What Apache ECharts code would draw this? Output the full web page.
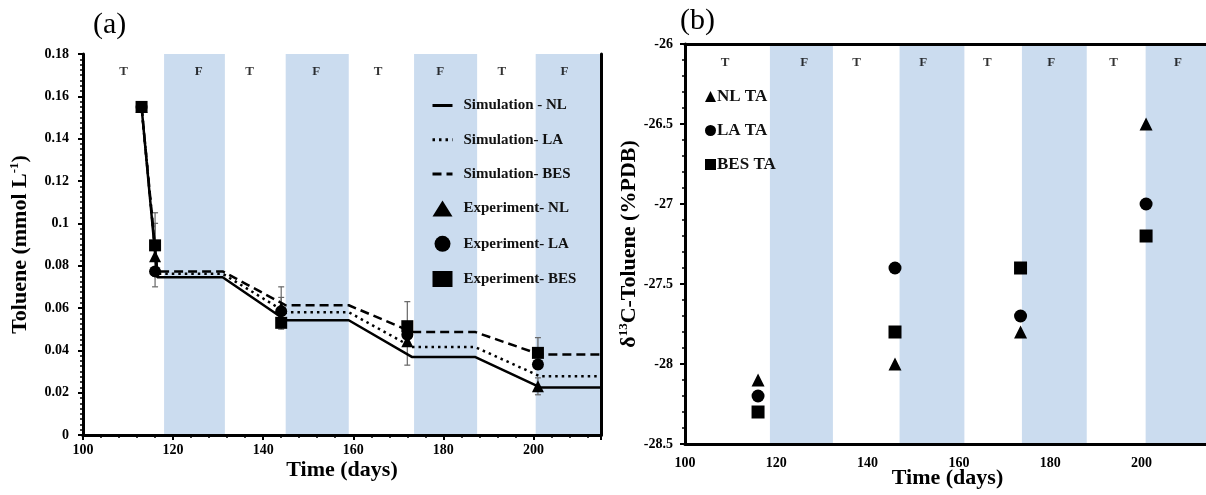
<!DOCTYPE html>
<html>
<head>
<meta charset="utf-8">
<script src="https://cdn.jsdelivr.net/npm/echarts@6/dist/echarts.min.js"></script>
<style>html,body{margin:0;padding:0;background:#fff}#c{width:1206px;height:495px}</style>
</head>
<body>
<div id="c"></div>
<script>
// ---------- data: panel (a) ----------
const simDays = [113, 116.5, 131, 145, 159, 173, 187, 201.5, 215];
const simNL  = [0.155, 0.0745, 0.0745, 0.0542, 0.0542, 0.0369, 0.0369, 0.0225, 0.0225];
const simLA  = [0.155, 0.0762, 0.0762, 0.0580, 0.0580, 0.0416, 0.0416, 0.0277, 0.0277];
const simBES = [0.155, 0.0773, 0.0773, 0.0613, 0.0613, 0.0487, 0.0487, 0.0380, 0.0380];

const expDays = [113, 116, 144, 172, 201];
const expNL  = [0.155, 0.0844, 0.0600, 0.0443, 0.0230];
const expLA  = [0.155, 0.0773, 0.0585, 0.0474, 0.0333];
const expBES = [0.155, 0.0896, 0.0530, 0.0514, 0.0388];

// error bars: [day, low, high]
const errBarsA = [
  [113, 0.153, 0.157],
  [116, 0.070, 0.100],
  [116, 0.075, 0.105],
  [144, 0.050, 0.070],
  [144, 0.055, 0.065],
  [172, 0.033, 0.063],
  [201, 0.019, 0.027],
  [201, 0.031, 0.046]
];

const bandsA = [[118, 131.5], [145, 159], [173.5, 187.5], [200.5, 215]];
const tfLabels = ['T', 'F', 'T', 'F', 'T', 'F', 'T', 'F'];
const tfDaysA = [109, 125.7, 137, 151.8, 165.5, 179.3, 193, 206.9];
const tfLevelA = 0.1715;

const legendA = ['Simulation - NL', 'Simulation- LA', 'Simulation- BES', 'Experiment- NL', 'Experiment- LA', 'Experiment- BES'];

// ---------- data: panel (b) ----------
const isoDays = [116, 146, 173.5, 201];
const isoNL  = [-28.1, -28.0, -27.8, -26.5];
const isoLA  = [-28.2, -27.4, -27.7, -27.0];
const isoBES = [-28.3, -27.8, -27.4, -27.2];

const bandsB = [[118.6, 132.4], [147, 161.2], [173.8, 188], [200.9, 215]];
const tfDaysB = [108.8, 126.1, 137.6, 152.2, 166.2, 180.2, 193.9, 208];
const tfLevelB = -26.115;

const legendB = ['NL TA', 'LA TA', 'BES TA'];

// ---------- helpers ----------
const SERIF = '"Liberation Serif", "Times New Roman", serif';
const BAND = '#cbdcef';
const pair = (xs, ys) => xs.map((x, i) => [x, ys[i]]);
const bandArea = bands => bands.map(b => [{ xAxis: b[0] }, { xAxis: b[1] }]);

const lblStyle = { fontFamily: SERIF, fontWeight: 'bold', fontSize: 14, color: '#000' };
const nameStyle = { fontFamily: SERIF, fontWeight: 'bold', fontSize: 22, color: '#000' };
const axLine = { show: true, lineStyle: { color: '#000', width: 3 } };

const chart = echarts.init(document.getElementById('c'));

const option = {
  animation: false,
  title: [
    { text: '(a)', left: 93, top: 10, padding: 0, textStyle: { fontFamily: SERIF, fontWeight: 'normal', fontSize: 30, color: '#000' } },
    { text: '(b)', left: 680, top: 6, padding: 0, textStyle: { fontFamily: SERIF, fontWeight: 'normal', fontSize: 30, color: '#000' } }
  ],
  grid: [
    { left: 83, top: 54, width: 518, height: 381, outerBoundsMode: 'none', containLabel: false },
    { left: 685, top: 44, width: 525, height: 400, outerBoundsMode: 'none', containLabel: false }
  ],
  legend: [
    {
      left: 431, top: 98, padding: 0, orient: 'vertical', itemWidth: 20, itemHeight: 16, itemGap: 19.2,
      data: legendA.map((n, i) => i < 3 ? { name: n, itemStyle: { opacity: 0 } } : n),
      lineStyle: { width: 3 },
      textStyle: { fontFamily: SERIF, fontWeight: 'bold', fontSize: 15, color: '#111', padding: [0, 0, 0, 6] },
      selectedMode: false
    },
    {
      left: 705, top: 88, padding: 0, orient: 'vertical', itemWidth: 11, itemHeight: 11, itemGap: 17,
      data: legendB,
      textStyle: { fontFamily: SERIF, fontWeight: 'bold', fontSize: 17, color: '#111', padding: [0, 0, 0, -4] },
      selectedMode: false
    }
  ],
  xAxis: [
    {
      gridIndex: 0, type: 'value', min: 100, max: 215, interval: 20, position: 'bottom', z: 10,
      axisLine: axLine,
      axisTick: { show: true, length: 5, lineStyle: { color: '#000', width: 2 } },
      minorTick: { show: true, splitNumber: 5, length: 3, lineStyle: { color: '#000', width: 1.5 } },
      splitLine: { show: false },
      axisLabel: Object.assign({ margin: 8, formatter: v => (v % 20 === 0 ? String(v) : '') }, lblStyle),
      name: 'Time (days)', nameLocation: 'middle', nameGap: 24, nameMoveOverlap: false, nameTextStyle: nameStyle
    },
    {
      gridIndex: 0, type: 'value', min: 100, max: 215, position: 'top', z: 10,
      axisLine: axLine, axisTick: { show: false }, axisLabel: { show: false }, splitLine: { show: false }
    },
    {
      gridIndex: 1, type: 'value', min: 100, max: 215, interval: 20, position: 'bottom', z: 10,
      axisLine: axLine, axisTick: { show: false }, splitLine: { show: false },
      axisLabel: Object.assign({ margin: 12, formatter: v => (v % 20 === 0 ? String(v) : '') }, lblStyle),
      name: 'Time (days)', nameLocation: 'middle', nameGap: 23, nameMoveOverlap: false, nameTextStyle: nameStyle
    },
    {
      gridIndex: 1, type: 'value', min: 100, max: 215, position: 'top', z: 10,
      axisLine: axLine, axisTick: { show: false }, axisLabel: { show: false }, splitLine: { show: false }
    }
  ],
  yAxis: [
    {
      gridIndex: 0, type: 'value', min: 0, max: 0.18, interval: 0.02, position: 'left', z: 10,
      axisLine: axLine,
      axisTick: { show: true, length: 5, lineStyle: { color: '#000', width: 2 } },
      minorTick: { show: true, splitNumber: 8, length: 3, lineStyle: { color: '#000', width: 1.5 } },
      splitLine: { show: false },
      axisLabel: Object.assign({ margin: 14 }, lblStyle),
      name: '{a|Toluene (mmol L}{s|-1}{a|)}', nameLocation: 'middle', nameGap: 51, nameMoveOverlap: false,
      nameTextStyle: {
        rich: {
          a: { fontFamily: SERIF, fontWeight: 'bold', fontSize: 22, color: '#000', lineHeight: 24 },
          s: { fontFamily: SERIF, fontWeight: 'bold', fontSize: 13, color: '#000', lineHeight: 24, verticalAlign: 'top', padding: [0, 0, 10, 0] }
        }
      }
    },
    {
      gridIndex: 0, type: 'value', min: 0, max: 0.18, position: 'right', z: 10,
      axisLine: axLine, axisTick: { show: false }, axisLabel: { show: false }, splitLine: { show: false }
    },
    {
      gridIndex: 1, type: 'value', min: -28.5, max: -26, interval: 0.5, position: 'left', z: 10,
      axisLine: axLine,
      axisTick: { show: true, length: 5, lineStyle: { color: '#000', width: 2 } },
      minorTick: { show: true, splitNumber: 5, length: 3, lineStyle: { color: '#000', width: 1.5 } },
      splitLine: { show: false },
      axisLabel: Object.assign({ margin: 12 }, lblStyle),
      name: '{a|δ}{s|13}{a|C-Toluene (%PDB)}', nameLocation: 'middle', nameGap: 44, nameMoveOverlap: false,
      nameTextStyle: {
        rich: {
          a: { fontFamily: SERIF, fontWeight: 'bold', fontSize: 22, color: '#000', lineHeight: 24 },
          s: { fontFamily: SERIF, fontWeight: 'bold', fontSize: 13, color: '#000', lineHeight: 24, verticalAlign: 'top', padding: [0, 0, 10, 0] }
        }
      }
    }
  ],
  series: [
    // ----- panel (a) background bands + T/F labels -----
    {
      type: 'scatter', xAxisIndex: 0, yAxisIndex: 0, silent: true, symbolSize: 1,
      itemStyle: { color: 'rgba(0,0,0,0)' },
      data: tfDaysA.map((d, i) => ({ value: [d, tfLevelA], name: tfLabels[i] })),
      label: { show: true, position: 'inside', formatter: p => p.name, fontFamily: SERIF, fontWeight: 'bold', fontSize: 13, color: '#000' },
      markArea: { silent: true, itemStyle: { color: BAND }, data: bandArea(bandsA) },
      z: 1
    },
    // simulations
    { name: legendA[0], type: 'line', xAxisIndex: 0, yAxisIndex: 0, symbol: 'none', data: pair(simDays, simNL),
      lineStyle: { color: '#000', width: 2.5, type: 'solid' }, itemStyle: { color: '#000' } },
    { name: legendA[1], type: 'line', xAxisIndex: 0, yAxisIndex: 0, symbol: 'none', data: pair(simDays, simLA),
      lineStyle: { color: '#000', width: 2.5, type: [2.5, 4] }, itemStyle: { color: '#000' } },
    { name: legendA[2], type: 'line', xAxisIndex: 0, yAxisIndex: 0, symbol: 'none', data: pair(simDays, simBES),
      lineStyle: { color: '#000', width: 2.5, type: [9, 5] }, itemStyle: { color: '#000' } },
    // error bars
    {
      type: 'custom', xAxisIndex: 0, yAxisIndex: 0, silent: true, data: errBarsA,
      encode: { x: 0, y: [1, 2] },
      renderItem: (params, api) => {
        const x = api.value(0);
        const lo = api.coord([x, api.value(1)]);
        const hi = api.coord([x, api.value(2)]);
        const st = { stroke: '#666', lineWidth: 1.2 };
        return {
          type: 'group', children: [
            { type: 'line', shape: { x1: lo[0], y1: lo[1], x2: hi[0], y2: hi[1] }, style: st },
            { type: 'line', shape: { x1: lo[0] - 3, y1: lo[1], x2: lo[0] + 3, y2: lo[1] }, style: st },
            { type: 'line', shape: { x1: hi[0] - 3, y1: hi[1], x2: hi[0] + 3, y2: hi[1] }, style: st }
          ]
        };
      }
    },
    // experiments
    { name: legendA[3], type: 'scatter', xAxisIndex: 0, yAxisIndex: 0, symbol: 'triangle', symbolSize: 12,
      data: pair(expDays, expNL), itemStyle: { color: '#000', opacity: 1 } },
    { name: legendA[4], type: 'scatter', xAxisIndex: 0, yAxisIndex: 0, symbol: 'circle', symbolSize: 12,
      data: pair(expDays, expLA), itemStyle: { color: '#000', opacity: 1 } },
    { name: legendA[5], type: 'scatter', xAxisIndex: 0, yAxisIndex: 0, symbol: 'rect', symbolSize: 12,
      data: pair(expDays, expBES), itemStyle: { color: '#000', opacity: 1 } },

    // ----- panel (b) -----
    {
      type: 'scatter', xAxisIndex: 2, yAxisIndex: 2, silent: true, symbolSize: 1,
      itemStyle: { color: 'rgba(0,0,0,0)' },
      data: tfDaysB.map((d, i) => ({ value: [d, tfLevelB], name: tfLabels[i] })),
      label: { show: true, position: 'inside', formatter: p => p.name, fontFamily: SERIF, fontWeight: 'bold', fontSize: 13, color: '#000' },
      markArea: { silent: true, itemStyle: { color: BAND }, data: bandArea(bandsB) },
      z: 1
    },
    { name: legendB[0], type: 'scatter', xAxisIndex: 2, yAxisIndex: 2, symbol: 'triangle', symbolSize: 13,
      data: pair(isoDays, isoNL), itemStyle: { color: '#000', opacity: 1 } },
    { name: legendB[1], type: 'scatter', xAxisIndex: 2, yAxisIndex: 2, symbol: 'circle', symbolSize: 13,
      data: pair(isoDays, isoLA), itemStyle: { color: '#000', opacity: 1 } },
    { name: legendB[2], type: 'scatter', xAxisIndex: 2, yAxisIndex: 2, symbol: 'rect', symbolSize: 13,
      data: pair(isoDays, isoBES), itemStyle: { color: '#000', opacity: 1 } }
  ]
};
chart.setOption(option);
</script>
</body>
</html>
